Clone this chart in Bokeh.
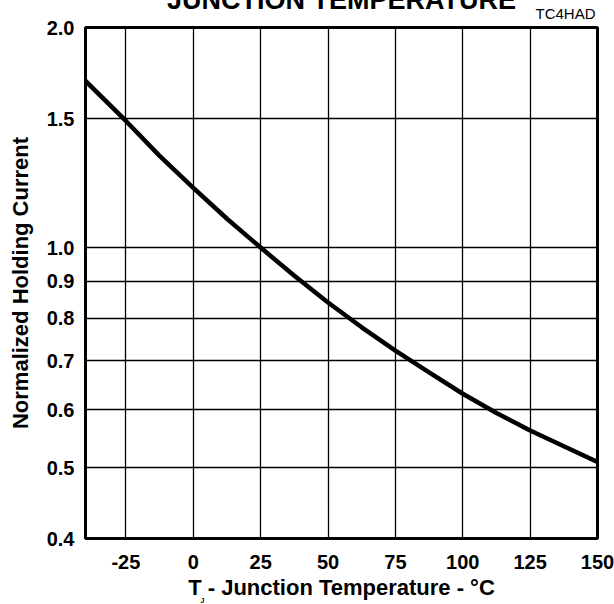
from bokeh.plotting import figure
from bokeh.models import FixedTicker, PrintfTickFormatter, Range1d, Title
from bokeh.embed import file_html
from bokeh.resources import INLINE

# ---- data ----
temperature = [-40, -25, -12.5, 0, 12.5, 25, 37.5, 50, 62.5, 75, 87.5, 100, 112.5, 125, 137.5, 150]
holding_current = [1.69, 1.49, 1.335, 1.207, 1.095, 1.0, 0.915, 0.841, 0.778, 0.723, 0.675, 0.631,
                   0.594, 0.562, 0.535, 0.509]
x_ticks = [-25, 0, 25, 50, 75, 100, 125, 150]
y_ticks = [0.4, 0.5, 0.6, 0.7, 0.8, 0.9, 1.0, 1.5, 2.0]
title_text = "JUNCTION TEMPERATURE"
code_text = "TC4HAD"
y_label = "Normalized Holding Current"
x_label = "T - Junction Temperature - °C"
x_label_sub = "J"

# ---- layout ----
W, H = 614, 604
FL, FR, FT, FB = 85, 597, 27, 538
FONT = "Liberation Sans"

p = figure(width=W, height=H, x_range=Range1d(-40, 150), y_range=Range1d(0.4, 2.0),
           y_axis_type="log", output_backend="svg", toolbar_location=None, title=None,
           min_border_left=FL, min_border_right=W - FR, min_border_top=FT,
           min_border_bottom=H - FB)
p.background_fill_color = "white"
p.border_fill_color = "white"
p.outline_line_color = "black"
p.outline_line_width = 3
p.outline_line_alpha = 1

p.xaxis.ticker = FixedTicker(ticks=x_ticks, minor_ticks=[])
p.yaxis.ticker = FixedTicker(ticks=y_ticks, minor_ticks=[])
p.xaxis.formatter = PrintfTickFormatter(format="%d")
p.yaxis.formatter = PrintfTickFormatter(format="%.1f")
for ax in (p.xaxis, p.yaxis):
    ax.axis_line_color = None
    ax.major_tick_line_color = None
    ax.minor_tick_line_color = None
    ax.major_tick_in = 0
    ax.major_tick_out = 0
    ax.major_label_text_font = FONT
    ax.major_label_text_font_style = "bold"
    ax.major_label_text_font_size = "20px"
    ax.major_label_text_color = "black"
    ax.axis_label_text_font = FONT
    ax.axis_label_text_font_style = "bold"
    ax.axis_label_text_font_size = "22px"
    ax.axis_label_text_color = "black"
p.xaxis.major_label_standoff = 16
p.yaxis.major_label_standoff = 11
p.xaxis.axis_label = x_label
p.xaxis.axis_label_standoff = 3
p.yaxis.axis_label = y_label
p.yaxis.axis_label_standoff = 11

for g in (p.xgrid, p.ygrid):
    g.grid_line_color = "black"
    g.grid_line_width = 1.3
    g.grid_line_alpha = 1

p.line(temperature, holding_current, line_width=4.5, line_color="black", line_join="round")

# subscript J under the x-axis label
p.add_layout(Title(text=x_label_sub, align="left", offset=115, vertical_align="top",
                   standoff=-12, text_font=FONT, text_font_style="bold",
                   text_font_size="7px", text_color="black"), "below")
# code label, closest to the frame
p.add_layout(Title(text=code_text, align="right", offset=2, vertical_align="top",
                   standoff=8, text_font=FONT, text_font_style="normal",
                   text_font_size="15px", text_color="black"), "above")
# main title (mostly cut off at the top, as in the reference)
p.add_layout(Title(text=title_text, align="center", vertical_align="top",
                   standoff=-32, text_font=FONT, text_font_style="bold",
                   text_font_size="27px", text_color="black"), "above")

open("out.html", "w").write(file_html(p, INLINE))
